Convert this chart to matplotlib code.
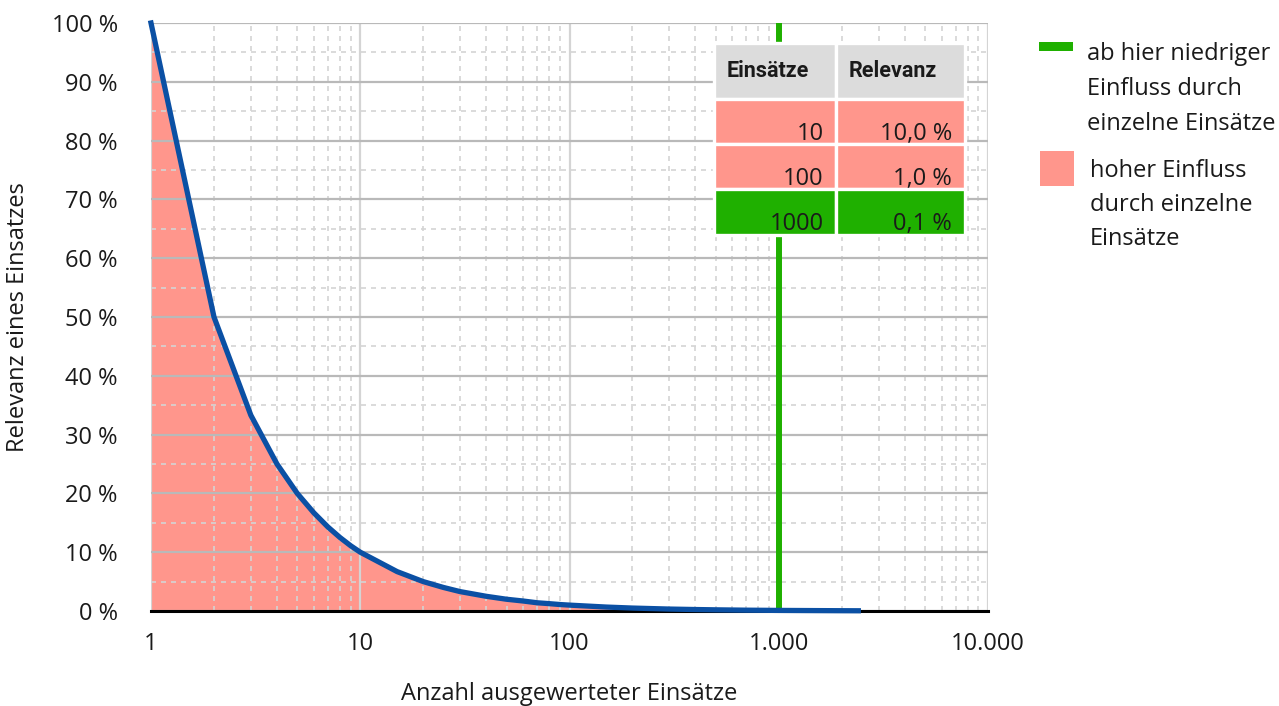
import matplotlib
matplotlib.use("Agg")
import matplotlib.pyplot as plt
import matplotlib.ticker as mticker
from matplotlib.patches import Rectangle

plt.rcParams["font.family"] = ["Open Sans", "DejaVu Sans"]

# ── Daten ────────────────────────────────────────────────────────────────────
anzahl = [1, 2, 3, 4, 5, 6, 7, 8, 9, 10, 15, 20, 25, 30, 40, 50, 60, 70, 80, 90,
          100, 150, 200, 300, 400, 500, 700, 1000, 1500, 2000, 2400]
relevanz = [100.0, 50.0, 33.3, 25.0, 20.0, 16.7, 14.3, 12.5, 11.1, 10.0, 6.7,
            5.0, 4.0, 3.3, 2.5, 2.0, 1.7, 1.4, 1.25, 1.1, 1.0, 0.67, 0.5, 0.33,
            0.25, 0.2, 0.14, 0.1, 0.07, 0.05, 0.04]
schwelle = 1000

tab_kopf = ["Einsätze", "Relevanz"]
tab_einsaetze = ["10", "100", "1000"]
tab_relevanz = ["10,0 %", "1,0 %", "0,1 %"]

y_ticks = [0, 10, 20, 30, 40, 50, 60, 70, 80, 90, 100]
x_ticks = [1, 10, 100, 1000, 10000]
x_labels = ["1", "10", "100", "1.000", "10.000"]

leg_gruen = ["ab hier niedriger", "Einfluss durch", "einzelne Einsätze"]
leg_rot = ["hoher Einfluss", "durch einzelne", "Einsätze"]

# ── Farben ───────────────────────────────────────────────────────────────────
RED = "#ff968c"
GREEN = "#1fb000"
BLUE = "#0b50a4"
GREY_HEAD = "#dcdcdc"
GRID_MAJ_Y = "#b9b9b9"
GRID_LIGHT = "#d4d4d4"
INK = "#1a1a1a"
FS = 17

W, H = 1279, 706
fig = plt.figure(figsize=(W / 100, H / 100), dpi=100, facecolor="white")
ax = fig.add_axes([151 / W, 1 - 611 / H, (988 - 151) / W, (611 - 23) / H])

ax.fill_between(anzahl, relevanz, 0, color=RED, lw=0, zorder=1)
ax.axvline(schwelle, color=GREEN, lw=4.3, zorder=3, ymin=0, ymax=1)
ax.plot(anzahl, relevanz, color=BLUE, lw=3.8, zorder=4, clip_on=False,
        solid_joinstyle="round")

ax.set_xscale("log")
ax.set_xlim(1, 10000)
ax.set_ylim(0, 100)

ax.set_yticks(y_ticks)
ax.set_yticklabels([f"{v} %" for v in y_ticks])
ax.yaxis.set_minor_locator(mticker.MultipleLocator(5))
ax.set_xticks(x_ticks)
ax.set_xticklabels(x_labels)
ax.xaxis.set_minor_locator(mticker.LogLocator(base=10, subs=range(2, 10)))
ax.xaxis.set_minor_formatter(mticker.NullFormatter())

ax.tick_params(which="both", length=0, labelsize=FS, colors=INK)
ax.tick_params(axis="y", pad=24)
ax.tick_params(axis="x", pad=15)

ax.grid(axis="y", which="major", color=GRID_MAJ_Y, lw=1.6, zorder=1.5)
ax.grid(axis="x", which="major", color=GRID_LIGHT, lw=1.6, zorder=1.5)
ax.grid(which="minor", color=GRID_LIGHT, lw=1.2, ls=(0, (3, 3)), zorder=1.5)

for s in ["top", "right", "left"]:
    ax.spines[s].set_visible(False)
ax.spines["bottom"].set_color("black")
ax.spines["bottom"].set_linewidth(2.2)
ax.spines["bottom"].set_zorder(3.5)

ax.set_xlabel("Anzahl ausgewerteter Einsätze", fontsize=FS, color=INK)
ax.xaxis.set_label_coords(0.5, -0.12)
ax.set_ylabel("Relevanz eines Einsatzes", fontsize=FS, color=INK)
ax.yaxis.set_label_coords(-0.145, 0.5)

# ── Tabelle ──────────────────────────────────────────────────────────────────
zellen = [[e, r] for e, r in zip(tab_einsaetze, tab_relevanz)]
tab = ax.table(cellText=zellen, colLabels=tab_kopf,
               cellColours=[[RED, RED], [RED, RED], [GREEN, GREEN]],
               colColours=[GREY_HEAD, GREY_HEAD],
               colWidths=[120, 127],
               bbox=[(714 - 151) / 837, (611 - 235) / 588,
                     (965 - 714) / 837, (235 - 43) / 588],
               zorder=6)
tab.auto_set_font_size(False)
row_h = [56, 46, 45, 46]
for (r, c), cell in tab.get_celld().items():
    cell.set_edgecolor("white")
    cell.set_linewidth(2.4)
    cell.set_height(row_h[r])
    t = cell.get_text()
    t.set_fontsize(FS)
    t.set_color(INK)
    if r == 0:
        t.set_ha("left")
        t.set_fontweight("bold")
        t.set_fontfamily(["Roboto", "DejaVu Sans"])
        t.set_fontsize(FS - 1.5)
    else:
        t.set_ha("right")
        t.set_va("top")

# ── Legende ──────────────────────────────────────────────────────────────────
fig.add_artist(Rectangle((1039 / W, 1 - 51 / H), 34 / W, 9 / H,
                         transform=fig.transFigure, color=GREEN, lw=0))
for i, zeile in enumerate(leg_gruen):
    fig.text(1087 / W, 1 - (60 + 35 * i) / H, zeile,
             fontsize=FS, color=INK, va="baseline", ha="left")
fig.add_artist(Rectangle((1040 / W, 1 - 186 / H), 34 / W, 35 / H,
                         transform=fig.transFigure, color=RED, lw=0))
for i, zeile in enumerate(leg_rot):
    fig.text(1090 / W, 1 - (177 + 34 * i) / H, zeile,
             fontsize=FS, color=INK, va="baseline", ha="left")

fig.savefig("out.png", dpi=100, facecolor="white")
